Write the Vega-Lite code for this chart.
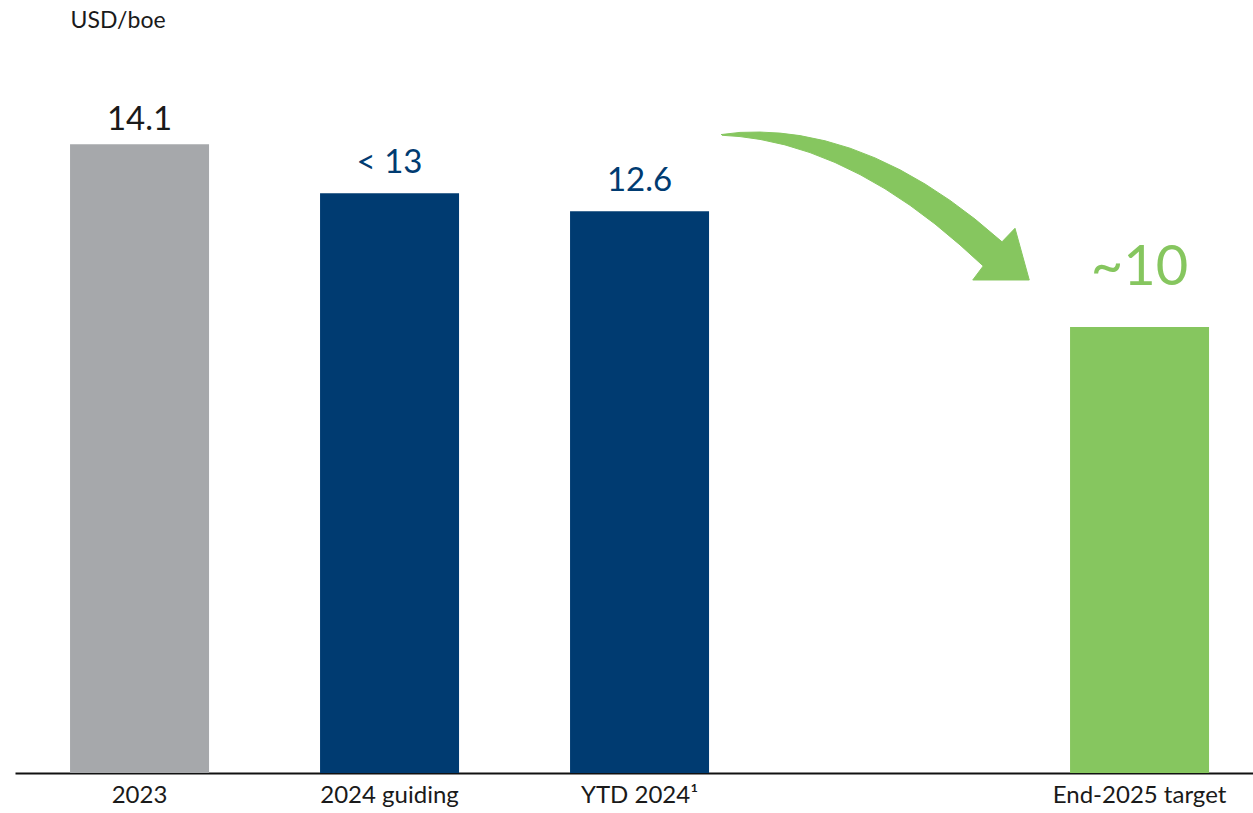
{
  "$schema": "https://vega.github.io/schema/vega-lite/v6.json",
  "width": 1238,
  "height": 758,
  "autosize": "none",
  "padding": {"left": 15, "top": 15, "right": 0, "bottom": 40},
  "background": "#ffffff",
  "config": {"view": {"stroke": null}, "font": "Lato"},
  "datasets": {
    "bars": [
      {"category": "2023", "value": 14.1, "label": "14.1", "group": "actual"},
      {"category": "2024 guiding", "value": 13.0, "label": "< 13", "group": "plan"},
      {"category": "YTD 2024¹", "value": 12.6, "label": "12.6", "group": "plan"},
      {"category": "End-2025 target", "value": 10.0, "label": "~10", "group": "target"}
    ],
    "arrow": [
      {"i": 1, "x": 2.824, "v": 14.318},
      {"i": 2, "x": 2.9, "v": 14.367},
      {"i": 3, "x": 2.98, "v": 14.375},
      {"i": 4, "x": 3.06, "v": 14.351},
      {"i": 5, "x": 3.14, "v": 14.295},
      {"i": 6, "x": 3.24, "v": 14.179},
      {"i": 7, "x": 3.34, "v": 14.013},
      {"i": 8, "x": 3.44, "v": 13.795},
      {"i": 9, "x": 3.54, "v": 13.528},
      {"i": 10, "x": 3.64, "v": 13.21},
      {"i": 11, "x": 3.74, "v": 12.842},
      {"i": 12, "x": 3.84, "v": 12.423},
      {"i": 13, "x": 3.948, "v": 11.913},
      {"i": 14, "x": 4.0, "v": 12.216},
      {"i": 15, "x": 4.057, "v": 11.057},
      {"i": 16, "x": 3.831, "v": 11.057},
      {"i": 17, "x": 3.873, "v": 11.371},
      {"i": 18, "x": 3.78, "v": 11.844},
      {"i": 19, "x": 3.68, "v": 12.313},
      {"i": 20, "x": 3.58, "v": 12.732},
      {"i": 21, "x": 3.48, "v": 13.102},
      {"i": 22, "x": 3.38, "v": 13.421},
      {"i": 23, "x": 3.28, "v": 13.692},
      {"i": 24, "x": 3.18, "v": 13.914},
      {"i": 25, "x": 3.08, "v": 14.087},
      {"i": 26, "x": 2.98, "v": 14.21},
      {"i": 27, "x": 2.9, "v": 14.273},
      {"i": 28, "x": 2.828, "v": 14.303}
    ]
  },
  "layer": [
    {
      "data": {"name": "bars"},
      "encoding": {
        "x": {
          "field": "category",
          "type": "nominal",
          "sort": null,
          "scale": {
            "domain": ["2023", "2024 guiding", "YTD 2024¹", "", "End-2025 target"],
            "paddingInner": 0.444,
            "paddingOuter": 0.198,
            "align": 0.556
          },
          "axis": {
            "title": null,
            "domain": true,
            "domainColor": "#111111",
            "domainWidth": 2,
            "ticks": false,
            "grid": false,
            "labelAngle": 0,
            "labelFontSize": 24,
            "labelColor": "#1a1a1a",
            "labelPadding": 10
          }
        },
        "y": {
          "field": "value",
          "type": "quantitative",
          "scale": {"domain": [0, 17], "nice": false},
          "axis": {
            "domain": false,
            "ticks": false,
            "labels": false,
            "grid": false,
            "title": "USD/boe",
            "titleAngle": 0,
            "titleAlign": "left",
            "titleBaseline": "middle",
            "titleX": 55,
            "titleY": 5,
            "titleFontSize": 23,
            "titleFontWeight": "normal",
            "titleColor": "#1a1a1a"
          }
        }
      },
      "layer": [
        {
          "mark": {"type": "bar"},
          "encoding": {
            "color": {
              "field": "group",
              "type": "nominal",
              "scale": {"domain": ["actual", "plan", "target"], "range": ["#A6A8AB", "#003B71", "#86C65F"]},
              "legend": null
            }
          }
        },
        {
          "transform": [{"filter": "datum.group === 'actual'"}],
          "mark": {"type": "text", "baseline": "alphabetic", "align": "center", "dy": -14, "fontSize": 33, "color": "#1a1a1a"},
          "encoding": {"text": {"field": "label"}}
        },
        {
          "transform": [{"filter": "datum.group === 'plan'"}],
          "mark": {"type": "text", "baseline": "alphabetic", "align": "center", "dy": -20, "fontSize": 33, "color": "#003B71"},
          "encoding": {"text": {"field": "label"}}
        },
        {
          "transform": [{"filter": "datum.group === 'target'"}],
          "mark": {"type": "text", "baseline": "alphabetic", "align": "center", "dy": -42, "fontSize": 56, "color": "#86C65F"},
          "encoding": {"text": {"field": "label"}}
        }
      ]
    },
    {
      "data": {"name": "arrow"},
      "mark": {"type": "line", "interpolate": "linear", "fill": "#86C65F", "stroke": "#86C65F", "strokeWidth": 1},
      "encoding": {
        "x": {"field": "x", "type": "quantitative", "scale": {"domain": [0, 4.952], "nice": false, "zero": false}, "axis": null},
        "y": {"field": "v", "type": "quantitative", "title": "USD/boe"},
        "order": {"field": "i", "type": "quantitative"}
      }
    }
  ],
  "resolve": {"scale": {"x": "independent"}}
}
